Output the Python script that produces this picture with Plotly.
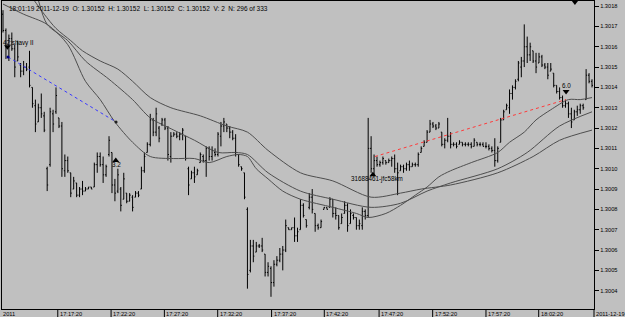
import plotly.graph_objects as go

# Prices are stored in points (0.00001) above 1.30000
BASE = 1.30
PT = 1e-5

high_pts = [178,169,166,167,161,163,152,153,152,158,
            140,134,132,137,128,101,130,129,140,125,
            123,107,106,98,96,93,91,94,91,91,
            91,103,108,108,106,102,116,108,95,100,
            91,98,88,88,87,89,89,101,108,113,
            127,125,130,121,125,125,121,118,118,118,
            118,120,116,101,99,101,100,108,107,111,
            111,111,110,118,123,125,122,121,119,117,
            107,101,98,81,65,65,64,63,66,58,
            54,52,55,57,61,62,75,71,71,76,
            71,85,83,75,88,90,78,73,75,81,
            81,86,85,81,77,78,84,83,80,78,
            76,75,81,80,125,116,107,106,104,106,
            104,105,106,107,103,102,102,103,104,103,
            103,108,111,114,119,124,123,122,123,118,
            115,125,118,
            113,113,114,113,113,113,113,115,113,113,113,113,112,111,
            115,111,125,129,132,139,141,144,153,155,
            171,165,162,158,157,157,156,152,152,152,147,141,140,136,134,133,130,129,131,132,132,149,147,144]
low_pts = [167,154,153,158,145,153,145,146,148,140,
           130,118,123,125,118,89,101,118,127,120,
           96,96,98,86,90,86,86,87,89,90,
           90,91,98,101,93,96,106,88,84,88,
           79,85,83,84,79,86,86,90,98,108,
           111,116,116,113,121,119,104,103,116,115,
           114,114,104,87,95,93,97,103,103,96,
           104,104,106,106,111,118,118,115,114,106,
           101,99,85,41,49,54,59,61,59,47,
           47,37,42,52,54,50,59,70,70,64,
           64,70,76,71,80,78,69,70,71,80,
           80,81,76,75,70,73,78,69,73,75,
           70,70,70,75,76,98,97,101,101,102,
           102,103,101,98,87,99,98,99,99,101,
           101,101,108,111,113,118,120,119,120,111,
           110,113,110,
           111,110,112,111,111,111,110,111,111,111,111,110,109,108,
           101,103,113,124,129,127,134,139,143,145,
           150,152,153,152,147,152,150,149,144,148,140,137,134,130,130,125,120,124,126,127,129,134,142,140]
open_pts = [176,168,160,164,159,153,151,148,150,150,
            140,131,123,130,126,100,102,127,128,125,
            121,99,104,98,90,93,87,90,89,90,
            91,91,102,106,102,97,107,108,92,89,
            90,85,88,84,86,86,88,90,99,108,
            112,124,118,120,122,124,120,106,116,117,
            116,117,116,100,95,98,97,103,106,104,
            110,106,108,107,116,121,122,120,118,115,
            107,101,98,80,50,62,59,62,62,58,
            49,51,44,53,55,58,60,71,70,71,
            67,70,82,75,81,86,78,72,71,80,
            81,81,85,78,77,73,78,82,73,77,
            76,72,72,79,77,110,100,104,102,103,
            104,103,104,105,100,99,101,100,102,101,
            102,102,108,111,113,118,122,121,120,118,
            112,114,116,
            112,112,112,113,112,112,112,111,113,112,112,111,111,110,
            109,104,113,124,129,130,137,140,144,150,
            153,160,156,158,153,152,155,151,150,148,147,141,138,135,131,132,127,124,128,129,131,134,146,143]
close_pts = [168,160,164,159,150,155,148,150,149,141,
             132,122,130,127,119,92,128,122,136,121,
             100,104,99,88,94,87,90,89,90,91,
             90,102,106,102,97,101,114,92,88,97,
             82,95,84,87,81,88,87,99,106,112,
             124,118,127,115,124,120,107,116,117,116,
             117,119,105,92,98,96,99,107,104,110,
             106,109,107,117,121,123,120,118,115,108,
             102,100,86,48,62,57,62,62,60,49,
             52,44,53,55,58,60,72,70,71,67,
             69,82,77,72,86,80,72,71,74,81,
             80,85,78,77,71,76,82,72,78,76,
             72,73,79,77,110,100,104,102,103,105,
             103,104,105,100,98,101,100,102,101,102,
             102,107,110,113,118,122,121,120,122,112,
             114,116,112,
             112,111,113,112,112,112,111,114,112,112,111,111,110,109,
             104,110,124,128,131,137,140,143,152,153,
             160,156,160,153,150,155,151,150,146,149,141,138,135,131,132,127,123,128,129,131,130,146,143,141]

# Moving averages (bar index, points)
ma_fast_idx = [0,7,15,22,28,33,38,44,50,58,65,70,76,80,83,86,90,95,101,112,
               120,124,130,135,140,144,148,152,159,168,172,177,181,186,192,196,200]
ma_fast_pts = [181,176,171,161,143,134,123,113,106,105,105,103,106,107,106,100,95,89,85,81,
               78,76,78,82,87,91,96,99,103,108,113,118,124,129,134,134,135]
ma_mid_idx = [12,15,22,28,36,44,50,58,65,73,79,83,90,101,112,125,135,144,152,168,178,189,200]
ma_mid_pts = [183,171,163,153,144,134,125,119,114,108,108,107,98,89,85,81,83,89,93,100,108,121,128]
ma_slow_idx = [10,14,18,23,27,33,39,44,50,57,67,76,83,90,101,112,125,135,142,152,168,180,189,200]
ma_slow_pts = [184,176,169,163,158,153,149,143,135,130,126,121,118,109,98,94,86,88,90,92,98,106,114,119]

# Trades (bar index, points)
trade1_idx = [1.7, 38.4]
trade1_pts = [155, 123]
trade2_idx = [126.3, 191.2]
trade2_pts = [106, 134]

arrow_idx = [1.5, 38.3, 125.6, 191.2, 194.2]
arrow_pts = [160, 104, 97, 138, 182]
arrow_sym = ["triangle-down", "triangle-up", "triangle-up", "triangle-down", "triangle-down"]

label_text = ["42:shavy II", "3.2", "31688461-jfc58km", "6.0"]
label_idx = [-0.3, 38.4, 117.8, 191.2]
label_pts = [162, 102, 95, 141]
label_anchor = ["left", "center", "left", "center"]

time_tick_pos = [18.6, 36.7, 54.8, 72.9, 91.2, 109.1, 127.7, 145.9, 164.0, 181.9]
time_tick_lab = ["17:17:20", "17:22:20", "17:27:20", "17:32:20", "17:37:20",
                 "17:42:20", "17:47:20", "17:52:20", "17:57:20", "18:02:20"]

price_ticks = [1.3004 + 0.0001 * i for i in range(15)]

header = "18:01:19 2011-12-19  O: 1.30152  H: 1.30152  L: 1.30152  C: 1.30152  V: 2  N: 296 of 333"

def px(lst):
    return [BASE + v * PT for v in lst]

n = min(len(high_pts), len(low_pts), len(open_pts), len(close_pts))
idx = list(range(n))

fig = go.Figure()
fig.add_trace(go.Ohlc(
    x=idx, open=px(open_pts[:n]), high=px(high_pts[:n]), low=px(low_pts[:n]), close=px(close_pts[:n]),
    increasing=dict(line=dict(color="#000000", width=1)),
    decreasing=dict(line=dict(color="#000000", width=1)),
    tickwidth=0.35, hoverinfo="skip", showlegend=False))

for mi, mp in [(ma_fast_idx, ma_fast_pts), (ma_mid_idx, ma_mid_pts), (ma_slow_idx, ma_slow_pts)]:
    fig.add_trace(go.Scatter(x=mi, y=px(mp), mode="lines",
                             line=dict(color="#4e4e4e", width=1, shape="spline", smoothing=0.8),
                             hoverinfo="skip", showlegend=False))

fig.add_trace(go.Scatter(x=trade1_idx, y=px(trade1_pts), mode="lines+markers",
                         line=dict(color="#3a3aff", width=1, dash="dot"),
                         marker=dict(size=3, color=["#000080", "#202020"]),
                         hoverinfo="skip", showlegend=False))
fig.add_trace(go.Scatter(x=trade2_idx, y=px(trade2_pts), mode="lines",
                         line=dict(color="#ff3a3a", width=1, dash="dot"),
                         hoverinfo="skip", showlegend=False))
fig.add_trace(go.Scatter(x=arrow_idx, y=px(arrow_pts), mode="markers",
                         marker=dict(symbol=arrow_sym, size=6, color="#000000"),
                         cliponaxis=False, hoverinfo="skip", showlegend=False))

ann = []
for t, xi, yp, a in zip(label_text, label_idx, label_pts, label_anchor):
    ann.append(dict(x=xi, y=BASE + yp * PT, xref="x", yref="y", text=t, showarrow=False,
                    xanchor=a, yanchor="middle", borderpad=0,
                    font=dict(family="Liberation Sans, Arial", size=6.3, color="#000000")))
ann.append(dict(x=0.0101, y=1, xref="paper", yref="paper", text=header, showarrow=False,
                xanchor="left", yanchor="top", yshift=-3, borderpad=0,
                font=dict(family="Liberation Sans, Arial", size=6.5, color="#000000")))
tick_font = dict(family="Liberation Sans, Arial", size=5.7, color="#000000")
ann.append(dict(x=0, y=0, xref="paper", yref="paper", text="2011", showarrow=False,
                xanchor="left", yanchor="top", yshift=-1, borderpad=0, font=tick_font))
ann.append(dict(x=1, y=0, xref="paper", yref="paper", text="2011-12-19", showarrow=False,
                xanchor="left", yanchor="top", xshift=1, yshift=-1, borderpad=0, font=tick_font))
shapes = []
for p, lab in zip(time_tick_pos, time_tick_lab):
    ann.append(dict(x=p, y=0, xref="x", yref="paper", text=lab, showarrow=False,
                    xanchor="left", yanchor="top", xshift=1, yshift=-1, borderpad=0, font=tick_font))
    shapes.append(dict(type="line", xref="x", yref="paper", x0=p, x1=p, y0=0, y1=-0.03,
                       line=dict(color="#000000", width=1)))
shapes.append(dict(type="line", xref="paper", yref="paper", x0=1, x1=1, y0=0, y1=-0.03,
                   line=dict(color="#000000", width=1)))

fig.update_layout(
    width=625, height=317,
    margin=dict(l=2, r=31, t=1, b=8),
    paper_bgcolor="#c0c0c0", plot_bgcolor="#c0c0c0",
    showlegend=False,
    annotations=ann, shapes=shapes,
    xaxis=dict(range=[-0.34, 200.68], showgrid=False, zeroline=False, showticklabels=False,
               ticks="", showline=True, linecolor="#000000", linewidth=1, mirror=True,
               rangeslider=dict(visible=False)),
    yaxis=dict(side="right", range=[1.300310, 1.301825], showgrid=False, zeroline=False,
               tickvals=price_ticks, ticktext=["%.4f" % v for v in price_ticks],
               ticks="outside", ticklen=4, tickcolor="#000000", tickwidth=1,
               tickfont=dict(family="Liberation Sans, Arial", size=5.7, color="#000000"),
               showline=True, linecolor="#000000", linewidth=1, mirror=True),
)

fig.write_html("out.html")
